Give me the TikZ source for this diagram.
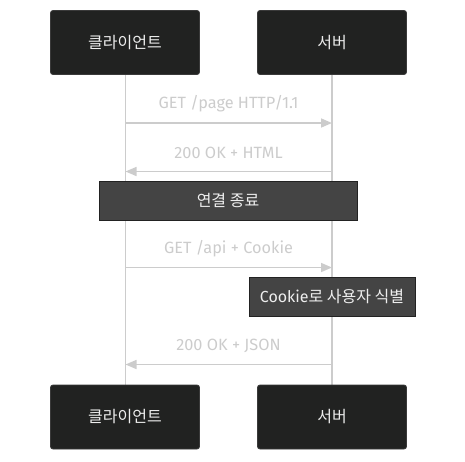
\documentclass[tikz,border=0pt]{standalone}
\usepackage{fontspec}
\setmainfont{Fira Sans}
\newfontfamily\cjk{Noto Sans CJK KR}
\usetikzlibrary{arrows.meta}
\definecolor{boxfill}{HTML}{212221}
\definecolor{boxline}{HTML}{3A3A3A}
\definecolor{notefill}{HTML}{444444}
\definecolor{noteline}{HTML}{222222}
\definecolor{lifeline}{HTML}{CCCCCC}
\definecolor{msgtext}{HTML}{CCCCCC}
\definecolor{boxtext}{HTML}{EEEEEE}
\begin{document}
\begin{tikzpicture}[x=1pt,y=-1pt,
  actorbox/.style={draw=boxline,fill=boxfill,rounded corners=2.5pt,line width=0.8pt,
    minimum width=149pt,minimum height=64pt,inner sep=0pt,text=boxtext,font=\cjk\fontsize{16}{19}\selectfont},
  notebox/.style={draw=noteline,fill=notefill,line width=0.8pt,inner sep=0pt,
    minimum height=39pt,text=boxtext,font=\fontsize{16}{19}\selectfont},
  life/.style={draw=lifeline,line width=1.6pt},
  msg/.style={draw=lifeline,line width=1.6pt,-{Triangle[length=11pt,width=9pt]}},
  lbl/.style={text=msgtext,font=\fontsize{16.3}{19}\selectfont}]
\useasboundingbox (0,0) rectangle (465,461);
% lifelines
\coordinate (ct) at (125.5,75);
\coordinate (cb) at (125.5,385);
\coordinate (st) at (332,75);
\coordinate (sb) at (332,385);
\draw[life] (ct) -- (cb);
\draw[life] (st) -- (sb);
% actors
\node[actorbox] (c1) at (125,42.5) {클라이언트};
\node[actorbox] (s1) at (332,42.5) {서버};
\node[actorbox] (c2) at (125,417) {클라이언트};
\node[actorbox] (s2) at (332,417) {서버};
% messages
\coordinate (m1a) at (125.5,123);
\coordinate (m1b) at (332,123);
\draw[msg] (m1a) -- (m1b);
\node[lbl] (l1) at (228.5,104) {GET /page HTTP/1.1};
\coordinate (m2a) at (332,171.5);
\coordinate (m2b) at (125.5,171.5);
\draw[msg] (m2a) -- (m2b);
\node[lbl] (l2) at (228.5,153) {200 OK + HTML};
\node[notebox,minimum width=258pt] (n1) at (228,200.5) {\cjk 연결 종료};
\coordinate (m3a) at (125.5,267.5);
\coordinate (m3b) at (332,267.5);
\draw[msg] (m3a) -- (m3b);
\node[lbl] (l3) at (228.5,248.5) {GET /api + Cookie};
\node[notebox,minimum width=166pt] (n2) at (332,297) {Cookie{\cjk 로 사용자 식별}};
\coordinate (m4a) at (332,364.5);
\coordinate (m4b) at (125.5,364.5);
\draw[msg] (m4a) -- (m4b);
\node[lbl] (l4) at (228.5,346) {200 OK + JSON};
\end{tikzpicture}
\end{document}
